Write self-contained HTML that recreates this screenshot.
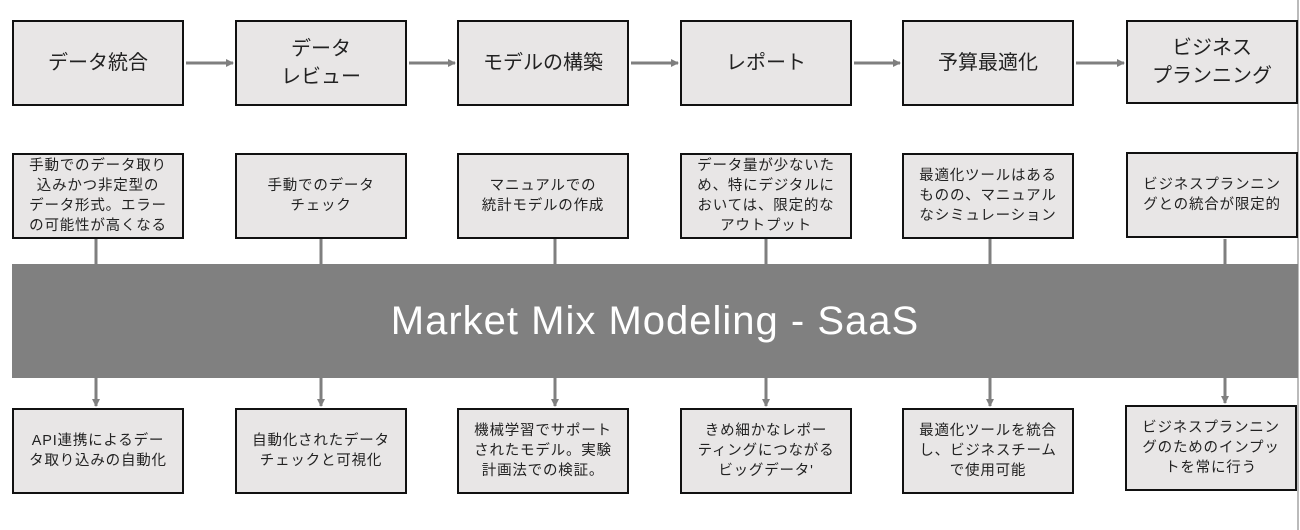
<!DOCTYPE html>
<html><head><meta charset="utf-8"><style>
body{margin:0;width:1300px;height:530px;background:#fff;position:relative;overflow:hidden;font-family:"Liberation Sans","Noto Sans CJK JP",sans-serif;color:#222}
.b{position:absolute;width:168px;background:#e8e6e6;border:2px solid #111;display:flex;align-items:center;justify-content:center;text-align:center;box-sizing:content-box;white-space:nowrap}
.t{top:20px;height:82px;font-size:20px;line-height:28px}
.m{top:153px;height:82px;font-size:14.5px;line-height:20px;letter-spacing:0.8px}
.o{top:408px;height:82px;font-size:14.5px;line-height:20px;letter-spacing:0.8px}
.bar{position:absolute;left:12px;top:264px;width:1286px;height:114px;background:#808080;color:#fff;font-size:40px;display:flex;align-items:center;justify-content:center;letter-spacing:1px}
svg{position:absolute;left:0;top:0}
</style></head><body>
<svg width="1300" height="530">
<defs><marker id="a" markerWidth="8" markerHeight="8" refX="7" refY="4" orient="auto" markerUnits="userSpaceOnUse"><path d="M0,0 L8,4 L0,8 z" fill="#7f7f7f"/></marker></defs>
<g stroke="#7f7f7f" stroke-width="3" fill="none">
<line x1="186" y1="63" x2="233" y2="63" marker-end="url(#a)"/>
<line x1="409" y1="63" x2="455" y2="63" marker-end="url(#a)"/>
<line x1="631" y1="63" x2="678" y2="63" marker-end="url(#a)"/>
<line x1="854" y1="63" x2="900" y2="63" marker-end="url(#a)"/>
<line x1="1076" y1="63" x2="1124" y2="63" marker-end="url(#a)"/>
<line x1="96" y1="239" x2="96" y2="264"/>
<line x1="321" y1="239" x2="321" y2="264"/>
<line x1="555" y1="239" x2="555" y2="264"/>
<line x1="766" y1="239" x2="766" y2="264"/>
<line x1="990" y1="239" x2="990" y2="264"/>
<line x1="1225" y1="239" x2="1225" y2="264"/>
<line x1="96" y1="378" x2="96" y2="406" marker-end="url(#a)"/>
<line x1="321" y1="378" x2="321" y2="406" marker-end="url(#a)"/>
<line x1="555" y1="378" x2="555" y2="406" marker-end="url(#a)"/>
<line x1="766" y1="378" x2="766" y2="406" marker-end="url(#a)"/>
<line x1="990" y1="378" x2="990" y2="406" marker-end="url(#a)"/>
<line x1="1225" y1="378" x2="1225" y2="403" marker-end="url(#a)"/>
</g>
<line x1="1298" y1="0" x2="1298" y2="530" stroke="#bbb" stroke-width="2"/>
</svg>
<div class="b t" style="left:12px">データ統合</div>
<div class="b t" style="left:235px">データ<br>レビュー</div>
<div class="b t" style="left:457px">モデルの構築</div>
<div class="b t" style="left:680px">レポート</div>
<div class="b t" style="left:902px">予算最適化</div>
<div class="b t" style="left:1126px;height:80px">ビジネス<br>プランニング</div>
<div class="b m" style="left:12px">手動でのデータ取り<br>込みかつ非定型の<br>データ形式。エラー<br>の可能性が高くなる</div>
<div class="b m" style="left:235px">手動でのデータ<br>チェック</div>
<div class="b m" style="left:457px">マニュアルでの<br>統計モデルの作成</div>
<div class="b m" style="left:680px">データ量が少ないた<br>め、特にデジタルに<br>おいては、限定的な<br>アウトプット</div>
<div class="b m" style="left:902px">最適化ツールはある<br>ものの、マニュアル<br>なシミュレーション</div>
<div class="b m" style="left:1126px;top:152px">ビジネスプランニン<br>グとの統合が限定的</div>
<div class="bar">Market Mix Modeling - SaaS</div>
<div class="b o" style="left:12px">API連携によるデー<br>タ取り込みの自動化</div>
<div class="b o" style="left:235px">自動化されたデータ<br>チェックと可視化</div>
<div class="b o" style="left:457px">機械学習でサポート<br>されたモデル。実験<br>計画法での検証。</div>
<div class="b o" style="left:680px">きめ細かなレポー<br>ティングにつながる<br>ビッグデータ'</div>
<div class="b o" style="left:902px">最適化ツールを統合<br>し、ビジネスチーム<br>で使用可能</div>
<div class="b o" style="left:1125px;top:405px">ビジネスプランニン<br>グのためのインプッ<br>トを常に行う</div>
</body></html>
